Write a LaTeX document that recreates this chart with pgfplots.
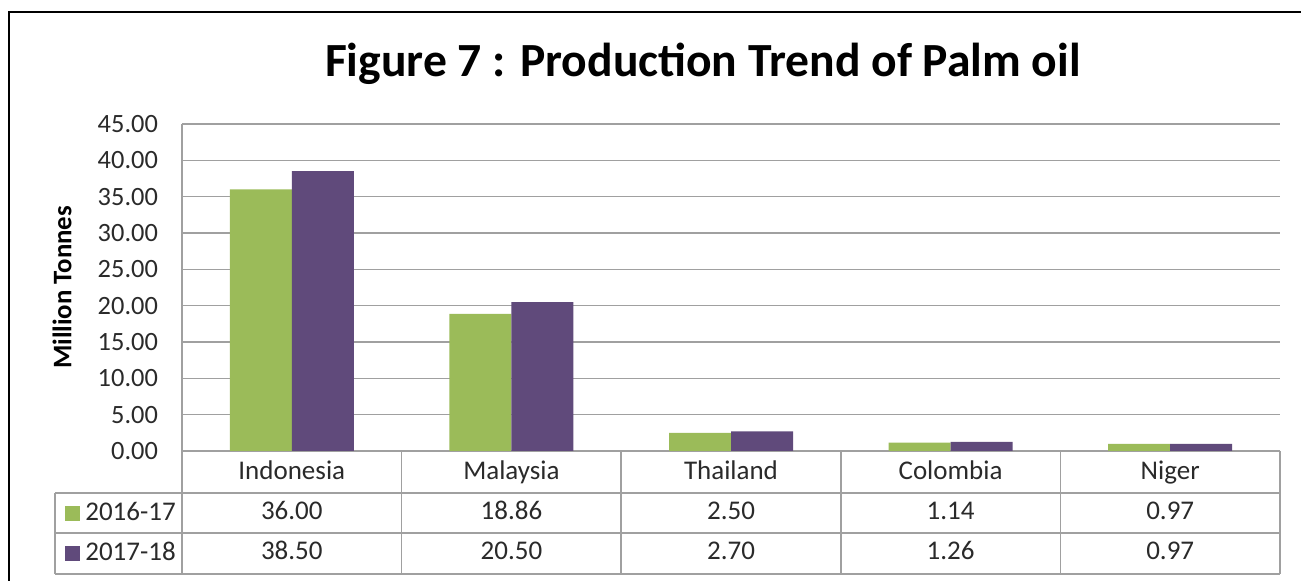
\documentclass[border=0pt]{standalone}
\usepackage{pgfplots}
\pgfplotsset{compat=1.18}
\usepackage{fontspec}
\setmainfont{Carlito}

\definecolor{barGreen}{HTML}{9BBB59}
\definecolor{barPurple}{HTML}{604A7B}
\definecolor{lineGray}{HTML}{A0A0A0}
\definecolor{txtGray}{HTML}{2A2A2A}

\newcommand{\tabfont}{\fontsize{13.5}{16}\selectfont}
\newcommand{\tickfont}{\fontsize{13.2}{16}\selectfont}

\begin{document}
\begin{tikzpicture}
  \path[use as bounding box] (0,0) rectangle (650.5pt,-290.5pt);
  % outer chart frame (right and bottom edges lie outside the crop)
  \draw[line width=1pt] (4.5pt,-300pt) -- (4.5pt,-6pt) -- (660pt,-6pt);

  \node[font=\fontsize{23.8}{28}\selectfont\bfseries, anchor=base]
    at (351.5pt,-38.5pt) {Figure 7 : Production Trend of Palm oil};

  \begin{axis}[
    at={(91pt,-225.5pt)}, anchor=south west,
    width=549pt, height=163.5pt, scale only axis,
    ybar=0pt, bar width=31pt,
    xmin=-0.5, xmax=4.5, ymin=0, ymax=45,
    xtick=data,
    xticklabels={Indonesia,Malaysia,Thailand,Colombia,Niger},
    ytick={0,5,...,45},
    axis lines=left, axis line style={-, lineGray, line width=0.75pt},
    major tick length=0pt,
    ymajorgrids, grid style={lineGray, line width=0.75pt},
    tick label style={text=txtGray},
    xticklabel style={font=\tabfont, anchor=base, yshift=-14.5pt},
    yticklabel style={font=\tickfont, anchor=east, xshift=-8.5pt},
    /pgf/number format/.cd, fixed, fixed zerofill, precision=2,
      assume math mode=true,
    /pgfplots/.cd,
    ylabel={Million Tonnes},
    every axis y label/.style={at={(rel axis cs:0,0.5)}, xshift=-60pt,
      rotate=90, font=\fontsize{13.4}{16}\selectfont\bfseries},
    legend style={at={(axis description cs:-0.1066,-0.1284)},
      anchor=north west, draw=none, fill=none, inner sep=0pt,
      row sep=0pt, column sep=2.5pt, font=\tabfont, text=txtGray,
      nodes={inner sep=0pt, text height=13.5pt, text depth=6.5pt}},
    legend cell align=left,
    legend image code/.code={\fill[#1] (0pt,-3.75pt) rectangle (7.5pt,3.75pt);},
    clip=false,
  ]
    \addplot[fill=barGreen, draw=none] coordinates {
      (0,36.00) (1,18.86) (2,2.50) (3,1.14) (4,0.97)};
    \addplot[fill=barPurple, draw=none] coordinates {
      (0,38.50) (1,20.50) (2,2.70) (3,1.26) (4,0.97)};
    \legend{2016-17, 2017-18}
  \end{axis}

  % data table below the plot
  \begin{scope}[lineGray, line width=0.75pt]
    \draw (27.5pt,-246.5pt) -- (640pt,-246.5pt);
    \draw (27.5pt,-266.5pt) -- (640pt,-266.5pt);
    \draw (27.5pt,-287pt) -- (640pt,-287pt);
    \draw (27.5pt,-246.5pt) -- (27.5pt,-287pt);
    \foreach \x in {91,200.8,310.6,420.4,530.2,640}
      \draw (\x pt,-225.5pt) -- (\x pt,-287pt);
  \end{scope}
  \begin{scope}[every node/.style={anchor=base, font=\tabfont, text=txtGray, inner sep=0pt}]
    \node at (145.9pt,-260pt) {36.00};
    \node at (255.7pt,-260pt) {18.86};
    \node at (365.5pt,-260pt) {2.50};
    \node at (475.3pt,-260pt) {1.14};
    \node at (585.1pt,-260pt) {0.97};
    \node at (145.9pt,-280pt) {38.50};
    \node at (255.7pt,-280pt) {20.50};
    \node at (365.5pt,-280pt) {2.70};
    \node at (475.3pt,-280pt) {1.26};
    \node at (585.1pt,-280pt) {0.97};
  \end{scope}
\end{tikzpicture}
\end{document}
